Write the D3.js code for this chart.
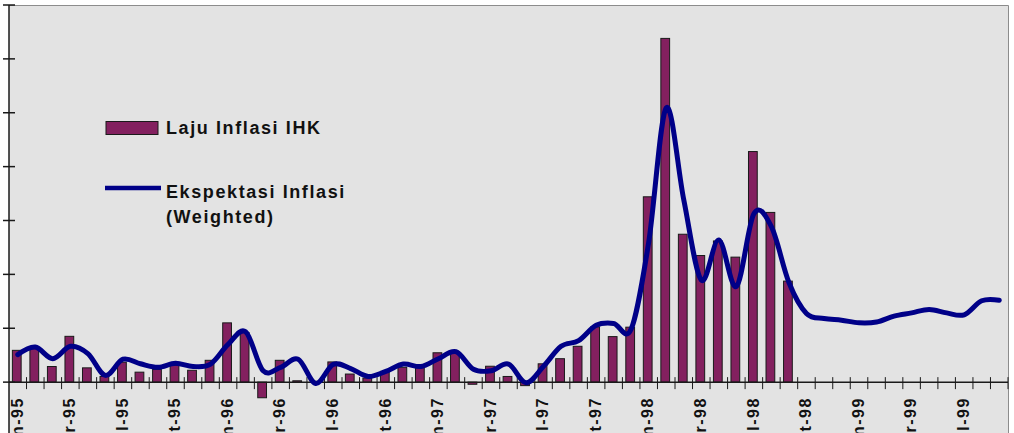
<!DOCTYPE html>
<html>
<body style="margin: 0; background: #ffffff">
  <script src="https://d3js.org/d3.v7.min.js"></script>

  <script>
    const WIDTH = 1014;
    const HEIGHT = 433;

    // months Jan-95 .. Sep-99
    const monthNames = ["Jan", "Feb", "Mar", "Apr", "May", "Jun", "Jul", "Aug", "Sep", "Oct", "Nov", "Dec"];
    const years = ["95", "96", "97", "98", "99"];
    const categories = [];
    years.forEach((yr) => {
      monthNames.forEach((m) => {
        categories.push(m + "-" + yr);
      });
    });
    categories.splice(57);

    // Laju Inflasi IHK (% per month), Jan-95 .. Sep-98
    const lajuInflasi = [
      1.18, 1.24, 0.58, 1.70, 0.53, 0.21, 0.74, 0.37, 0.47, 0.62, 0.44, 0.81,
      2.20, 1.84, -0.58, 0.81, 0.05, 0.03, 0.75, 0.30, 0.15, 0.40, 0.55, 0.54,
      1.09, 1.10, -0.08, 0.59, 0.21, -0.13, 0.68, 0.87, 1.33, 2.05, 1.69, 2.04,
      6.88, 12.76, 5.49, 4.70, 5.24, 4.64, 8.56, 6.30, 3.75
    ];

    // Ekspektasi Inflasi (Weighted), Jan-95 .. Sep-99
    const ekspektasi = [
      1.02, 1.30, 0.87, 1.33, 1.06, 0.25, 0.85, 0.68, 0.55, 0.70, 0.58, 0.67,
      1.40, 1.87, 0.42, 0.55, 0.85, -0.05, 0.66, 0.50, 0.21, 0.40, 0.67, 0.58,
      0.87, 1.13, 0.48, 0.42, 0.67, -0.02, 0.59, 1.33, 1.54, 2.11, 2.18, 1.97,
      5.20, 10.18, 6.77, 3.79, 5.28, 3.55, 6.25, 5.77, 3.70, 2.55, 2.36, 2.30,
      2.20, 2.23, 2.45, 2.57, 2.70, 2.57, 2.50, 3.02, 3.04
    ];

    const yTicks = [0, 2, 4, 6, 8, 10, 12, 14];
    const legendLabels = ["Laju Inflasi IHK", ["Ekspektasi Inflasi", "(Weighted)"]];

    const svg = d3.select("body").append("svg")
      .attr("width", WIDTH)
      .attr("height", HEIGHT)
      .style("display", "block")
      .style("font-family", "Arial, 'Liberation Sans', sans-serif");

    const x = d3.scaleBand()
      .domain(categories)
      .range([9, 1008])
      .padding(0);

    const y = d3.scaleLinear()
      .domain([-2, 14])
      .range([436, 5]);

    const bw = x.bandwidth();

    // plot area
    svg.append("rect")
      .attr("x", 9)
      .attr("y", 5)
      .attr("width", 1008 - 9)
      .attr("height", HEIGHT - 5)
      .style("fill", "#e3e3e3");

    svg.append("path")
      .attr("d", "M9,5.5H1008.5V" + HEIGHT)
      .style("fill", "none")
      .style("stroke", "#8c8c8c")
      .style("stroke-width", 1);

    // bars
    svg.append("g").selectAll("rect")
      .data(lajuInflasi)
      .enter()
      .append("rect")
      .attr("x", (d, i) => {return x(categories[i]) + bw * 0.25 - 1;})
      .attr("y", (d) => {return y(Math.max(0, d));})
      .attr("width", bw * 0.5)
      .attr("height", (d) => {return Math.abs(y(d) - y(0));})
      .style("fill", "#83205f")
      .style("stroke", "#1a1a1a")
      .style("stroke-width", 1);

    // zero axis line and ticks between categories
    const xAxis = svg.append("g");
    xAxis.append("line")
      .attr("x1", 9)
      .attr("x2", 1008)
      .attr("y1", y(0))
      .attr("y2", y(0))
      .style("stroke", "#1a1a1a")
      .style("stroke-width", 1.5);

    const boundaries = categories.map((c) => {return x(c) + bw;});
    xAxis.selectAll(".xtick")
      .data(boundaries)
      .enter()
      .append("line")
      .attr("class", "xtick")
      .attr("x1", (d) => {return d;})
      .attr("x2", (d) => {return d;})
      .attr("y1", y(0) - 5)
      .attr("y2", y(0) + 7)
      .style("stroke", "#1a1a1a")
      .style("stroke-width", 1);

    xAxis.selectAll(".xlabel")
      .data(categories.filter((d, i) => {return i % 3 === 0;}))
      .enter()
      .append("text")
      .attr("class", "xlabel")
      .attr("transform", (d) => {
        return "translate(" + (x(d) + bw / 2 - 1) + "," + (y(0) + 15) + ") rotate(-90)";
      })
      .attr("dy", "0.36em")
      .attr("text-anchor", "end")
      .style("font-size", "16px")
      .style("font-weight", "bold")
      .style("letter-spacing", "1.5px")
      .style("fill", "#111")
      .text((d) => {return d;});

    // left axis
    const yAxis = svg.append("g");
    yAxis.append("line")
      .attr("x1", 9)
      .attr("x2", 9)
      .attr("y1", 5)
      .attr("y2", HEIGHT)
      .style("stroke", "#1a1a1a")
      .style("stroke-width", 1.5);

    yAxis.selectAll(".ytick")
      .data(yTicks)
      .enter()
      .append("line")
      .attr("class", "ytick")
      .attr("x1", 3)
      .attr("x2", 15)
      .attr("y1", (d) => {return y(d);})
      .attr("y2", (d) => {return y(d);})
      .style("stroke", "#1a1a1a")
      .style("stroke-width", 1.5);

    // expectation line
    const line = d3.line()
      .x((d, i) => {return x(categories[i]) + bw / 2;})
      .y((d) => {return y(d);})
      .curve(d3.curveCardinal.tension(0));

    svg.append("path")
      .datum(ekspektasi)
      .attr("d", line)
      .style("fill", "none")
      .style("stroke", "#000088")
      .style("stroke-width", 5)
      .style("stroke-linejoin", "round")
      .style("stroke-linecap", "round");

    // legend
    const legend = svg.append("g");
    legend.append("rect")
      .attr("x", 106)
      .attr("y", 121.5)
      .attr("width", 52)
      .attr("height", 13)
      .style("fill", "#83205f")
      .style("stroke", "#1a1a1a")
      .style("stroke-width", 1);

    legend.append("line")
      .attr("x1", 105)
      .attr("x2", 161)
      .attr("y1", 188)
      .attr("y2", 188)
      .style("stroke", "#000088")
      .style("stroke-width", 4.5);

    const legendText = legend.append("g")
      .style("font-size", "18px")
      .style("font-weight", "bold")
      .style("letter-spacing", "1.6px")
      .style("fill", "#111");

    legendText.append("text")
      .attr("x", 166)
      .attr("y", 134)
      .text(legendLabels[0]);

    legendText.selectAll(".l2")
      .data(legendLabels[1])
      .enter()
      .append("text")
      .attr("class", "l2")
      .attr("x", 166)
      .attr("y", (d, i) => {return 198 + i * 25;})
      .text((d) => {return d;});
  </script>
</body>
</html>
